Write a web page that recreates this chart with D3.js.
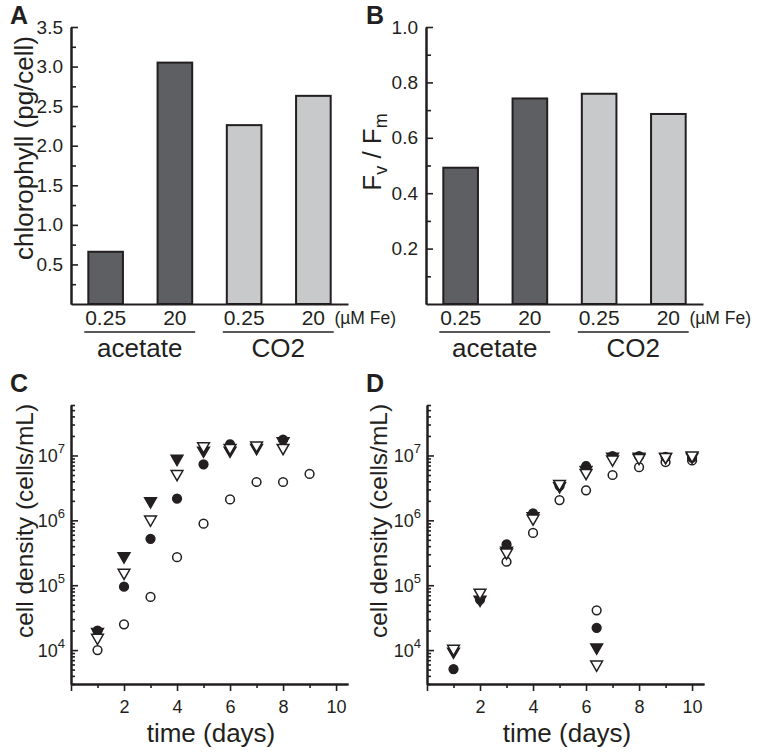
<!DOCTYPE html>
<html><head><meta charset="utf-8">
<script src="https://cdn.jsdelivr.net/npm/d3@7"></script>
<style>
body{margin:0;background:#fff;}
svg{display:block;font-family:Arial,"Liberation Sans",Helvetica,sans-serif;}
.axis path,.axis line{stroke:#231f20;}
</style></head><body>
<svg id="fig" width="765" height="755"></svg>
<script>
// ---------- data ----------
const barCategories = ["0.25", "20", "0.25", "20"];
const barGroups = ["acetate", "CO2"];
const chlorophyll = [0.66, 3.05, 2.26, 2.63];
const fvfm = [0.492, 0.742, 0.759, 0.686];
const chlTicks = [0.5, 1.0, 1.5, 2.0, 2.5, 3.0, 3.5];
const fvTicks = [0.2, 0.4, 0.6, 0.8, 1.0];

const daysC = [1, 2, 3, 4, 5, 6, 7, 8, 9];
const cFilledCircle = [2.0e4, 9.5e4, 5.2e5, 2.17e6, 7.3e6, 1.48e7, null, 1.76e7, null];
const cFilledTri    = [1.9e4, 2.8e5, 1.98e6, 8.9e6, 1.19e7, 1.19e7, 1.31e7, 1.66e7, null];
const cOpenTri      = [1.55e4, 1.56e5, 1.03e6, 5.2e6, 1.39e7, 1.31e7, 1.43e7, 1.31e7, null];
const cOpenCircle   = [1.0e4, 2.5e4, 6.6e4, 2.7e5, 8.9e5, 2.1e6, 3.9e6, 3.9e6, 5.2e6];

const daysD = [1, 2, 3, 4, 5, 6, 7, 8, 9, 10, 6.4];
const dFilledCircle = [5.1e3, 6.0e4, 4.25e5, 1.28e6, 3.4e6, 6.85e6, 9.8e6, 9.8e6, 9.5e6, 9.3e6, 2.2e4];
const dFilledTri    = [9.5e3, 6.0e4, 3.4e5, 1.16e6, 3.37e6, 6.0e6, 9.6e6, 9.6e6, 9.5e6, 9.6e6, 1.1e4];
const dOpenTri      = [1.05e4, 7.7e4, 3.2e5, 1.07e6, 3.66e6, 5.4e6, 8.7e6, 9.2e6, 9.5e6, 1.0e7, 6.0e3];
const dOpenCircle   = [null, null, 2.3e5, 6.4e5, 2.05e6, 2.9e6, 5.0e6, 6.6e6, 7.9e6, 8.4e6, 4.1e4];

const xTicksMajor = [0, 2, 4, 6, 8, 10];
const xTicksMinor = [1, 3, 5, 7, 9];
const logMajor = [1e4, 1e5, 1e6, 1e7];

// ---------- drawing ----------
const svg = d3.select("#fig");
const INK = "#231f20";
const DARK = "#5e5f62", LIGHT = "#c8c9cb";

function panelLetter(t, x, y) {
  svg.append("text").attr("x", x).attr("y", y).text(t)
    .attr("font-size", 25).attr("font-weight", "bold").attr("fill", INK);
}
function styleAxis(g) {
  g.attr("class", "axis");
  g.selectAll("path").attr("stroke-width", 2).attr("fill", "none");
  g.selectAll("line").attr("stroke-width", 1.6);
  g.selectAll("text").attr("fill", INK).attr("font-family", null);
}

function barPanel(ox, values, ymax, majorTicks, minorStep, ylabelNode) {
  const x = d3.scaleBand().domain(d3.range(values.length)).range([ox, ox + 277]).paddingInner(0.5).paddingOuter(0.25);
  const y = d3.scaleLinear().domain([0, ymax]).range([304, 27]);
  const minor = d3.range(minorStep, ymax + 1e-9, minorStep).filter(v => !majorTicks.some(m => Math.abs(m - v) < 1e-9));
  svg.append("g").selectAll("rect").data(values).join("rect")
    .attr("x", (d, i) => x(i)).attr("width", x.bandwidth())
    .attr("y", d => y(d)).attr("height", d => y(0) - y(d))
    .attr("fill", (d, i) => i < 2 ? DARK : LIGHT)
    .attr("stroke", INK).attr("stroke-width", 2);
  const gmin = svg.append("g").attr("transform", `translate(${ox},0)`)
    .call(d3.axisLeft(y).tickValues(minor).tickSizeInner(-5).tickSizeOuter(0).tickFormat(""));
  styleAxis(gmin);
  const gy = svg.append("g").attr("transform", `translate(${ox},0)`)
    .call(d3.axisLeft(y).tickValues(majorTicks).tickSizeInner(-7).tickSizeOuter(0).tickPadding(8).tickFormat(d3.format(".1f")));
  styleAxis(gy);
  gy.selectAll("text").attr("font-size", 19);
  const gx = svg.append("g").attr("transform", "translate(0,304)")
    .call(d3.axisBottom(x).tickValues([]).tickSizeOuter(0));
  styleAxis(gx);
  svg.append("g").selectAll("text").data(barCategories).join("text")
    .attr("x", (d, i) => x(i) + x.bandwidth() / 2).attr("y", 325)
    .attr("text-anchor", "middle").attr("font-size", 21).attr("fill", INK).text(d => d);
  svg.append("text").attr("x", x(3) + x.bandwidth() / 2 + 21).attr("y", 324)
    .attr("font-size", 17.5).attr("fill", INK).text("(\u00b5M Fe)");
  barGroups.forEach((g, k) => {
    const x0 = x(2 * k) - 4, x1 = x(2 * k + 1) + x.bandwidth() + 3;
    svg.append("line").attr("x1", x0).attr("x2", x1).attr("y1", 332).attr("y2", 332)
      .attr("stroke", INK).attr("stroke-width", 1.5);
    svg.append("text").attr("x", (x0 + x1) / 2).attr("y", 357).attr("text-anchor", "middle")
      .attr("font-size", 26).attr("fill", INK).text(g);
  });
  ylabelNode();
}

function rotLabel(x, y, size, build) {
  const t = svg.append("text").attr("transform", `translate(${x},${y}) rotate(-90)`)
    .attr("text-anchor", "middle").attr("font-size", size).attr("fill", INK);
  build(t);
}

panelLetter("A", 10, 24);
barPanel(71, chlorophyll, 3.5, chlTicks, 0.25, () =>
  rotLabel(33, 148, 26, t => t.text("chlorophyll (pg/cell)")));
panelLetter("B", 366, 24);
barPanel(426, fvfm, 1.0, fvTicks, 0.1, () =>
  rotLabel(381, 152, 26, t => {
    t.append("tspan").text("F");
    t.append("tspan").attr("font-size", 18).attr("dy", 6).text("v");
    t.append("tspan").attr("dy", -6).text(" / F");
    t.append("tspan").attr("font-size", 18).attr("dy", 6).text("m");
  }));

const circlePath = d3.symbol().type(d3.symbolCircle).size(60)();
const triPath = d3.symbol().type(d3.symbolTriangle).size(60)();

function scatterPanel(ox, days, series, letter, lx, labelX) {
  const x = d3.scaleLinear().domain([0, 10.45]).range([ox, ox + 277]);
  const y = d3.scaleLog().domain([3000, 6e7]).range([684, 405]);
  const mins = [];
  [3, 4, 5, 6, 7].forEach(e => d3.range(2, 10).forEach(m => {
    const v = m * Math.pow(10, e); if (v >= 3000 && v <= 6e7) mins.push(v);
  }));
  const gmin = svg.append("g").attr("transform", `translate(${ox},0)`)
    .call(d3.axisLeft(y).tickValues(mins).tickSizeInner(-4).tickSizeOuter(0).tickFormat(""));
  styleAxis(gmin);
  const gy = svg.append("g").attr("transform", `translate(${ox},0)`)
    .call(d3.axisLeft(y).tickValues(logMajor).tickSizeInner(-7).tickSizeOuter(0).tickFormat(""));
  styleAxis(gy);
  gy.selectAll(".tick").append("text").attr("x", -6).attr("y", 6).attr("text-anchor", "end")
    .attr("fill", INK).attr("font-size", 18)
    .each(function (d) {
      const t = d3.select(this);
      t.append("tspan").text("10");
      t.append("tspan").attr("dy", -9).attr("font-size", 13).text(Math.round(Math.log10(d)));
    });
  const gxm = svg.append("g").attr("transform", "translate(0,684)")
    .call(d3.axisBottom(x).tickValues(xTicksMinor).tickSizeInner(4).tickSizeOuter(0).tickFormat(""));
  styleAxis(gxm);
  const gx = svg.append("g").attr("transform", "translate(0,684)")
    .call(d3.axisBottom(x).tickValues(xTicksMajor).tickSizeInner(7).tickSizeOuter(0).tickPadding(9)
      .tickFormat(d => d === 0 ? "" : d));
  styleAxis(gx);
  gx.selectAll("text").attr("font-size", 18);

  const layers = [
    { v: series[3], path: circlePath, fill: "#fff", rot: 0 },
    { v: series[0], path: circlePath, fill: INK, rot: 0 },
    { v: series[1], path: triPath, fill: INK, rot: 180 },
    { v: series[2], path: triPath, fill: "#fff", rot: 180 },
  ];
  layers.forEach(L => {
    const pts = days.map((d, i) => [d, L.v[i]]).filter(p => p[1] != null);
    svg.append("g").selectAll("path").data(pts).join("path")
      .attr("d", L.path)
      .attr("transform", p => `translate(${x(p[0])},${y(p[1])}) rotate(${L.rot})`)
      .attr("fill", L.fill).attr("stroke", INK).attr("stroke-width", 1.5);
  });

  panelLetter(letter, lx, 392);
  svg.append("text").attr("x", ox + 140).attr("y", 742).attr("text-anchor", "middle")
    .attr("font-size", 26).attr("fill", INK).text("time (days)");
  rotLabel(labelX, 521, 24.5, t => t.text("cell density (cells/mL)"));
}

scatterPanel(71, daysC, [cFilledCircle, cFilledTri, cOpenTri, cOpenCircle], "C", 10, 33);
scatterPanel(427, daysD, [dFilledCircle, dFilledTri, dOpenTri, dOpenCircle], "D", 366, 387);
</script></body></html>
